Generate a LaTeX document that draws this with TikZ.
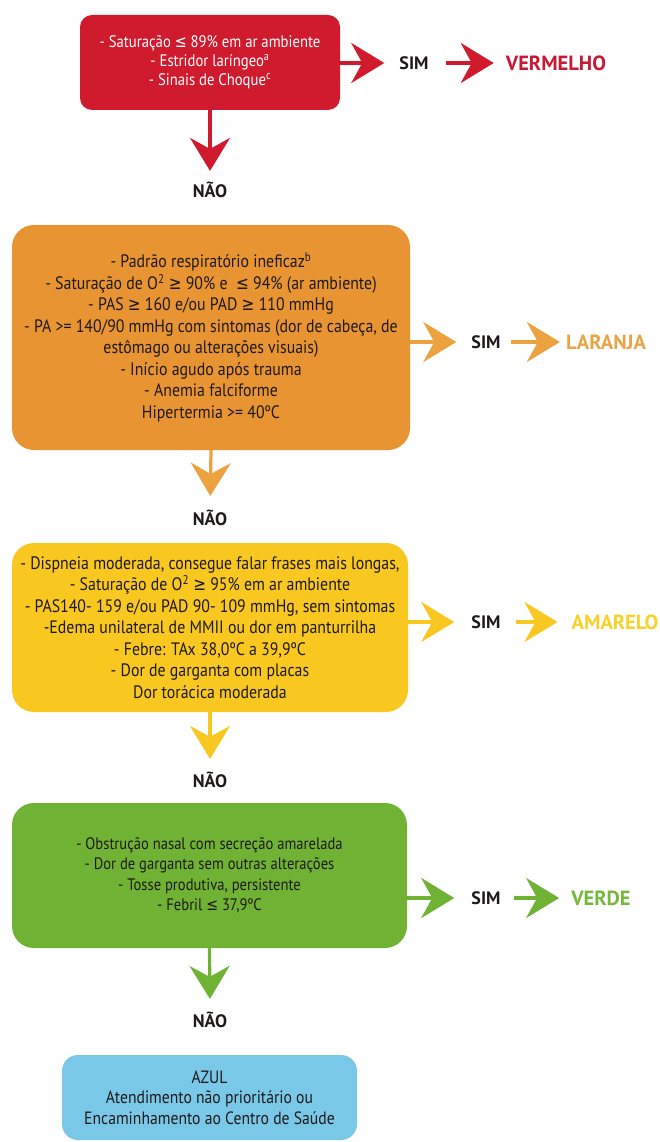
\documentclass[tikz,border=0pt]{standalone}
\usepackage{fontspec}
\setmainfont{PT Sans}[FakeStretch=0.88]
\newfontfamily\labelfont{PT Sans}
\newfontfamily\symfont{DejaVu Sans}[FakeStretch=0.85]
\usetikzlibrary{arrows.meta}

\definecolor{redbox}{RGB}{208,26,46}
\definecolor{orangebox}{RGB}{232,148,50}
\definecolor{yellowbox}{RGB}{249,200,32}
\definecolor{greenbox}{RGB}{112,178,52}
\definecolor{bluebox}{RGB}{122,200,232}
\definecolor{redtxt}{RGB}{200,24,52}
\definecolor{orangetxt}{RGB}{234,164,72}
\definecolor{yellowtxt}{RGB}{248,210,40}
\definecolor{greentxt}{RGB}{118,184,60}
\definecolor{orangearr}{RGB}{236,162,62}
\definecolor{darktxt}{RGB}{30,26,26}

\newcommand{\maiorigual}{{\symfont ≥}}
\newcommand{\menorigual}{{\symfont ≤}}

\tikzset{
  box/.style={rounded corners=22pt, align=center, inner sep=0pt, text=darktxt,
              font=\fontsize{18}{21.5}\selectfont},
  sim/.style={font=\labelfont\bfseries\fontsize{18}{18}\selectfont, text=darktxt, inner sep=0pt},
  nao/.style={font=\labelfont\bfseries\fontsize{18}{18}\selectfont, text=darktxt, inner sep=0pt},
  level/.style={font=\labelfont\bfseries\fontsize{20.5}{20.5}\selectfont, inner sep=0pt},
  flow/.style={line width=3.2pt, -{Stealth[length=33pt,width=40pt,inset=11pt]}},
}

\begin{document}
\begin{tikzpicture}[x=1pt,y=-1pt]
\useasboundingbox[fill=white] (0,0) rectangle (659,1142);

% --- red level ---
\node[box, fill=redbox, text=white, rounded corners=12pt,
      font=\fontsize{16.7}{19}\selectfont,
      minimum width=260pt, minimum height=95pt] (r) at (210,62.5)
  {- Saturação \menorigual\ 89\% em ar ambiente\\
   - Estridor laríngeo\textsuperscript{a}\\
   - Sinais de Choque\textsuperscript{c}};
\node[sim] (simR) at (414,63) {SIM};
\node[level, text=redtxt] (vermelho) at (556,63) {VERMELHO};
\node[nao] (naoR) at (210,190) {NÃO};
\draw[flow, redbox, shorten >=15pt] (r.east |- simR) -- (simR.west);
\draw[flow, redbox, shorten <=17pt, shorten >=12pt] (simR.east) -- (vermelho.west);
\draw[flow, redbox, shorten >=11pt] (r.south) -- (naoR.north);

% --- orange level ---
\node[box, fill=orangebox, minimum width=398pt, minimum height=225pt] (o) at (211,337.5)
  {- Padrão respiratório ineficaz\textsuperscript{b}\\
   - Saturação de O\textsuperscript{2} \maiorigual\ 90\% e \ \menorigual\ 94\% (ar ambiente)\\
   - PAS \maiorigual\ 160 e/ou PAD \maiorigual\ 110 mmHg\\
   - PA >= 140/90 mmHg com sintomas (dor de cabeça, de\\
   estômago ou alterações visuais)\\
   - Início agudo após trauma\\
   - Anemia falciforme\\
   Hipertermia >= 40ºC};
\node[sim] (simO) at (486,342) {SIM};
\node[level, text=orangetxt] (laranja) at (606,342) {LARANJA};
\node[nao] (naoO) at (210,518) {NÃO};
\draw[flow, orangearr, shorten >=15pt] (o.east |- simO) -- (simO.west);
\draw[flow, orangearr, shorten <=10pt, shorten >=6pt] (simO.east) -- (laranja.west);
\draw[flow, orangearr, shorten >=14pt] (o.south) -- (naoO.north);

% --- yellow level ---
\node[box, fill=yellowbox, minimum width=396pt, minimum height=169pt] (y) at (210,627.5)
  {- Dispneia moderada, consegue falar frases mais longas,\\
   - Saturação de O\textsuperscript{2} \maiorigual\ 95\% em ar ambiente\\
   - PAS140- 159 e/ou PAD 90- 109 mmHg, sem sintomas\\
   -Edema unilateral de MMII ou dor em panturrilha\\
   - Febre: TAx 38,0ºC a 39,9ºC\\
   - Dor de garganta com placas\\
   Dor torácica moderada};
\node[sim] (simY) at (486,622) {SIM};
\node[level, text=yellowtxt] (amarelo) at (615,622) {AMARELO};
\node[nao] (naoY) at (210,780) {NÃO};
\draw[flow, yellowbox, shorten >=17pt] (y.east |- simY) -- (simY.west);
\draw[flow, yellowbox, shorten <=15pt, shorten >=14pt] (simY.east) -- (amarelo.west);
\draw[flow, yellowbox, shorten >=13pt] (y.south) -- (naoY.north);

% --- green level ---
\node[box, fill=greenbox, font=\fontsize{16.6}{20.5}\selectfont,
      minimum width=395pt, minimum height=145pt] (g) at (209.5,875.5)
  {- Obstrução nasal com secreção amarelada\\
   - Dor de garganta sem outras alterações\\
   - Tosse produtiva, persistente\\
   - Febril \menorigual\ 37,9ºC};
\node[sim] (simG) at (486,898) {SIM};
\node[level, text=greentxt] (verde) at (601,898) {VERDE};
\node[nao] (naoG) at (210,1020) {NÃO};
\draw[flow, greenbox, shorten >=17pt] (g.east |- simG) -- (simG.west);
\draw[flow, greenbox, shorten <=13pt, shorten >=12pt] (simG.east) -- (verde.west);
\draw[flow, greenbox, shorten >=13pt] (g.south) -- (naoG.north);

% --- blue level ---
\node[box, fill=bluebox, rounded corners=16pt, font=\fontsize{17.8}{20.5}\selectfont,
      minimum width=295pt, minimum height=85pt] (b) at (209.5,1097.5)
  {AZUL\\
   Atendimento não prioritário ou\\
   Encaminhamento ao Centro de Saúde};
\end{tikzpicture}
\end{document}
